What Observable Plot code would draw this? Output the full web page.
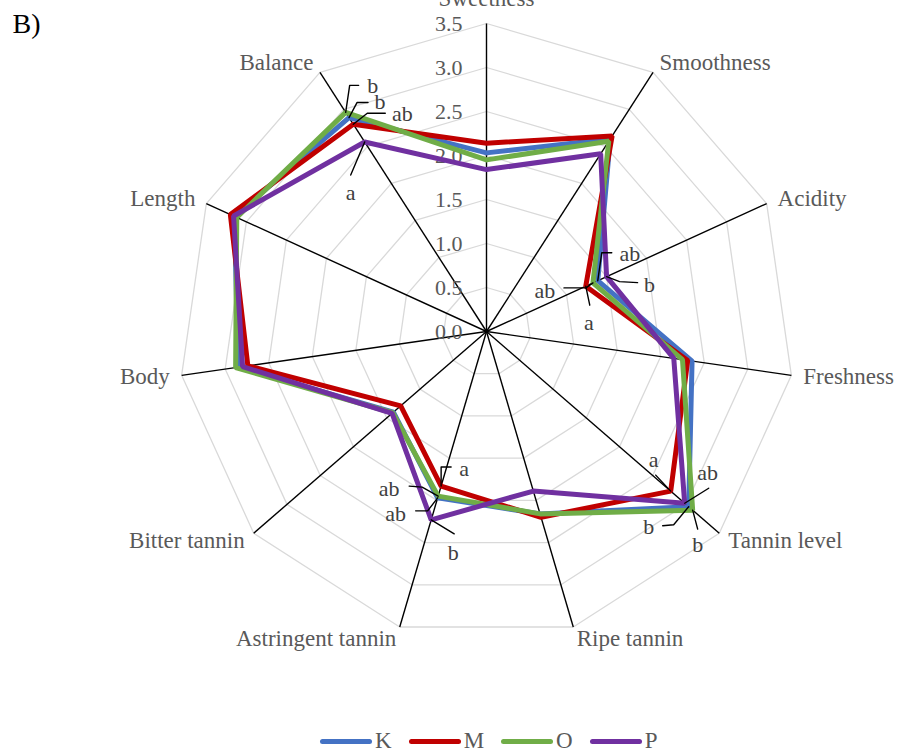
<!DOCTYPE html>
<html><head><meta charset="utf-8">
<script src="https://cdn.jsdelivr.net/npm/d3@7"></script>
<script src="https://cdn.jsdelivr.net/npm/@observablehq/plot@0.6"></script>
<style>
body{margin:0;background:#fff;font-family:"Liberation Serif","Times New Roman",serif;}
#chart svg{display:block;overflow:hidden}
#legend{position:relative;height:36px;display:flex;align-items:center;padding-left:320px;padding-top:6px;box-sizing:border-box;}
.item{display:flex;align-items:center;margin-right:17px;font-size:23px;color:#595959;}
.sw{width:52px;height:5px;border-radius:3px;margin-right:3px;}
</style></head><body>
<div id="chart"></div>
<div id="legend"></div>
<script>
// ---- data ----
const axes = ["Sweetness","Smoothness","Acidity","Freshness","Tannin level","Ripe tannin","Astringent tannin","Bitter tannin","Body","Length","Balance"];
const seriesNames = ["K","M","O","P"];
const K = [2.03, 2.60, 1.39, 2.36, 3.04, 2.16, 1.97, 1.40, 2.85, 3.15, 2.89];
const M = [2.14, 2.64, 1.24, 2.31, 2.77, 2.20, 1.83, 1.29, 2.74, 3.20, 2.80];
const O = [1.95, 2.57, 1.33, 2.25, 3.10, 2.16, 1.95, 1.41, 2.88, 3.12, 2.96];
const P = [1.84, 2.40, 1.50, 2.15, 2.98, 1.89, 2.23, 1.42, 2.80, 3.16, 2.56];
const tickValues = [0, 0.5, 1, 1.5, 2, 2.5, 3, 3.5];
const tickLabels = ["0.0","0.5","1.0","1.5","2.0","2.5","3.0","3.5"];
// significance letters
const sigAxis   = ["Balance","Balance","Balance","Balance","Acidity","Acidity","Acidity","Acidity","Tannin level","Tannin level","Tannin level","Tannin level","Astringent tannin","Astringent tannin","Astringent tannin","Astringent tannin"];
const sigSeries = ["O","K","M","P","K","P","O","M","M","P","K","O","M","O","K","P"];
const sigLetter = ["b","b","ab","a","ab","b","ab","a","a","ab","b","b","a","ab","ab","b"];
// ---- layout (callout geometry in px relative to the point) ----
const sigLayout = [
  {path:[[4,-27],[13,-27]], text:[27,-26]},
  {path:[[8,-15],[19,-15]], text:[31,-16]},
  {path:[[14,-11],[32,-11]], text:[49,-10]},
  {path:[[-14,33]], text:[-14,51]},
  {path:[[4,-28],[14,-28]], text:[32,-27]},
  {path:[[13,5],[31,6]], text:[43,8]},
  {path:[[-7,5],[-29,5]], text:[-48,8]},
  {path:[[4,19]], text:[3,37]},
  {path:[[-15,-16]], text:[-17,-31]},
  {path:[[24,-15]], text:[23,-30]},
  {path:[[-15,18],[-26,19]], text:[-40,20]},
  {path:[[5,19]], text:[5,35]},
  {path:[[0,-19],[10,-19]], text:[23,-17]},
  {path:[[-16,-9],[-29,-10]], text:[-49,-7]},
  {path:[[-10,13],[-22,13]], text:[-42,16]},
  {path:[[23,14]], text:[22,33]}
];
const colors = {K:"#4472C4", M:"#C00000", O:"#70AD47", P:"#7030A0"};
const seriesValues = {K, M, O, P};

const W = 904, H = 720, cx = 486, cy = 331, R = 308, vmax = 3.5;
const k = R / vmax; // px per unit
const n = axes.length;
const ang = i => i * 2 * Math.PI / n;
const pt = (i, v) => [v * Math.sin(ang(i)), v * Math.cos(ang(i))];

// grid rings
const ringData = [];
tickValues.slice(1).forEach(t => {
  for (let i = 0; i <= n; i++) { const [x, y] = pt(i % n, t); ringData.push({t, x, y}); }
});
// spokes
const spokes = axes.map((a, i) => { const [x2, y2] = pt(i, vmax); return {x1: 0, y1: 0, x2, y2}; });
// series
const lineData = [];
seriesNames.forEach(s => {
  for (let i = 0; i <= n; i++) { const [x, y] = pt(i % n, seriesValues[s][i % n]); lineData.push({s, x, y}); }
});
// axis labels
const pad = 12 / k;
const axisLabels = axes.map((a, i) => {
  const sn = Math.sin(ang(i));
  const anchor = Math.abs(sn) < 0.1 ? "middle" : (sn > 0 ? "start" : "end");
  const [x, y] = pt(i, vmax + (anchor === "middle" ? 18 / k : pad));
  return {a, x, y, anchor};
});
// tick labels
const tickData = tickValues.map((t, i) => ({x: -24 / k, y: t, label: tickLabels[i]}));
// significance callouts
const leaderData = [], sigText = [];
sigLetter.forEach((l, j) => {
  const i = axes.indexOf(sigAxis[j]);
  const [vx, vy] = pt(i, seriesValues[sigSeries[j]][i]);
  leaderData.push({id: j, x: vx, y: vy});
  sigLayout[j].path.forEach(([dx, dy]) => leaderData.push({id: j, x: vx + dx / k, y: vy - dy / k}));
  const [tx, ty] = sigLayout[j].text;
  sigText.push({l, x: vx + tx / k, y: vy - ty / k});
});

const font = "Liberation Serif, Times New Roman, serif";
const axisText = anchor => Plot.text(axisLabels.filter(d => d.anchor === anchor), {
  x: "x", y: "y", text: "a", textAnchor: anchor, lineAnchor: anchor === "middle" ? "bottom" : "middle",
  fill: "#595959", fontSize: 23, fontFamily: font
});
const plot = Plot.plot({
  width: W, height: H, margin: 0,
  x: {type: "linear", domain: [-cx / k, (W - cx) / k], range: [0, W], axis: null},
  y: {type: "linear", domain: [-(H - cy) / k, cy / k], range: [H, 0], axis: null},
  style: {fontFamily: font, background: "#fff"},
  marks: [
    Plot.line(ringData, {x: "x", y: "y", z: "t", stroke: "#d9d9d9", strokeWidth: 1.3}),
    Plot.link(spokes, {x1: "x1", y1: "y1", x2: "x2", y2: "y2", stroke: "#000", strokeWidth: 1.4}),
    Plot.text(tickData, {x: "x", y: "y", text: "label", textAnchor: "end", fill: "#595959", fontSize: 22, fontFamily: font}),
    Plot.line(lineData, {x: "x", y: "y", z: "s", stroke: d => colors[d.s], strokeWidth: 5, strokeLinejoin: "miter", curve: "linear"}),
    Plot.line(leaderData, {x: "x", y: "y", z: "id", stroke: "#000", strokeWidth: 1.4}),
    Plot.text(sigText, {x: "x", y: "y", text: "l", fill: "#404040", fontSize: 22, fontFamily: font}),
    axisText("start"), axisText("end"), axisText("middle"),
    Plot.text(["B)"], {frameAnchor: "top-left", dx: 12, dy: 13, fill: "#000", fontSize: 28, fontFamily: font, textAnchor: "start", lineAnchor: "top"})
  ]
});
document.getElementById("chart").append(plot);

const lg = document.getElementById("legend");
seriesNames.forEach(s => {
  const it = document.createElement("div"); it.className = "item";
  const sw = document.createElement("div"); sw.className = "sw"; sw.style.background = colors[s];
  const tx = document.createElement("span"); tx.textContent = s;
  it.append(sw, tx); lg.append(it);
});
</script>
</body></html>
